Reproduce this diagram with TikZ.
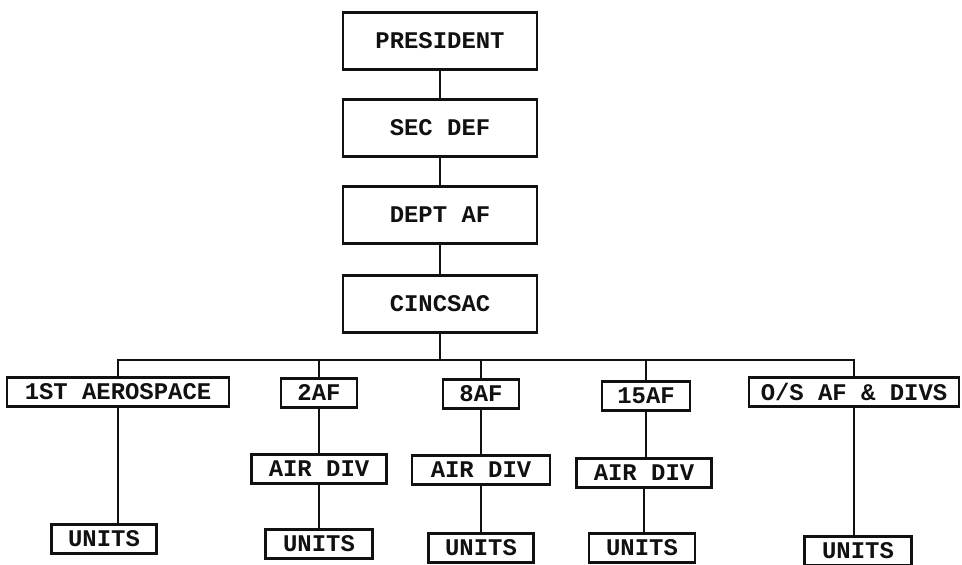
\documentclass[tikz,border=0pt]{standalone}
\usepackage{fontspec}
\setmonofont{Liberation Mono}
\usepackage{xcolor}
\usepackage{tikz}
\usetikzlibrary{positioning,calc}
\definecolor{SACink}{HTML}{111111}
\tikzset{
  orgbox/.style={draw=SACink, line width=1.7pt, inner sep=0pt, align=center,
    font=\ttfamily\bfseries\fontsize{17}{19}\selectfont, text=SACink},
  bigbox/.style={orgbox, minimum width=4.85cm, minimum height=1.42cm},
  smallbox/.style={orgbox, minimum height=0.72cm},
  orgline/.style={SACink, line width=1.7pt}
}

\begin{document}
\begin{tikzpicture}[x=0.025cm, y=-0.025cm]
      \useasboundingbox (0,0) rectangle (962,565);
      \node[bigbox] (pres) at (440,41) {PRESIDENT};
      \node[bigbox] (secdef) at (440,128) {SEC DEF};
      \node[bigbox] (deptaf) at (440,215) {DEPT AF};
      \node[bigbox] (cincsac) at (440,304) {CINCSAC};
      \coordinate (bus) at (440,360);

      \node[smallbox, minimum width=5.55cm] (aero) at (118,392) {1ST AEROSPACE};
      \node[smallbox, minimum width=1.9cm] (af2) at (319,393) {2AF};
      \node[smallbox, minimum width=1.9cm] (af8) at (481,394) {8AF};
      \node[smallbox, minimum width=2.2cm] (af15) at (646,396) {15AF};
      \node[smallbox, minimum width=5.25cm] (osaf) at (854,392) {O/S AF \& DIVS};

      \node[smallbox, minimum width=3.38cm] (div2) at (319,469) {AIR DIV};
      \node[smallbox, minimum width=3.45cm] (div8) at (481,470) {AIR DIV};
      \node[smallbox, minimum width=3.38cm] (div15) at (644,473) {AIR DIV};

      \node[smallbox, minimum width=2.62cm] (u1) at (104,539) {UNITS};
      \node[smallbox, minimum width=2.68cm] (u2) at (319,544) {UNITS};
      \node[smallbox, minimum width=2.62cm] (u8) at (481,548) {UNITS};
      \node[smallbox, minimum width=2.65cm] (u15) at (642,548) {UNITS};
      \node[smallbox, minimum width=2.68cm] (uos) at (858,551) {UNITS};

      \draw[orgline] (pres) -- (secdef);
      \draw[orgline] (secdef) -- (deptaf);
      \draw[orgline] (deptaf) -- (cincsac);
      \draw[orgline] (cincsac) -- (bus);
      \foreach \kid in {aero,af2,af8,af15,osaf}
        \draw[orgline] (bus) -| (\kid.north);
      \draw[orgline] (af2) -- (div2);
      \draw[orgline] (af8) -- (div8);
      \draw[orgline] (af15.south) -- (af15.south |- div15.north);
      \draw[orgline] (div2) -- (u2);
      \draw[orgline] (div8) -- (u8);
      \draw[orgline] (div15.south) -- (div15.south |- u15.north);
      \draw[orgline] (aero.south) -- (aero.south |- u1.north);
      \draw[orgline] (osaf.south) -- (osaf.south |- uos.north);
\end{tikzpicture}
\end{document}
